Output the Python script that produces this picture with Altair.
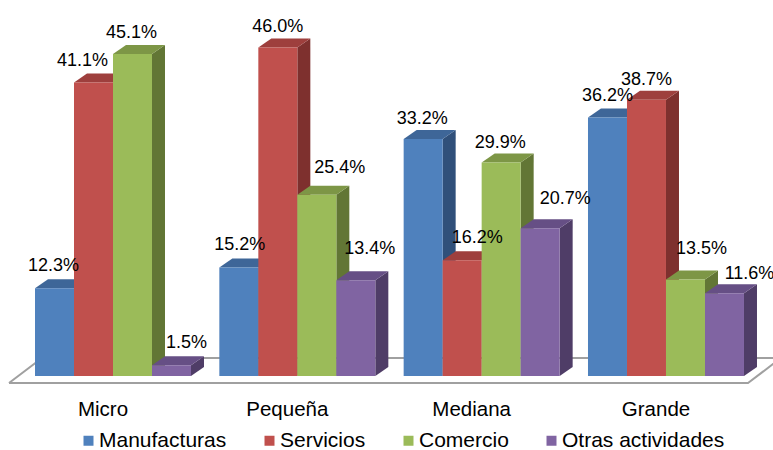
import altair as alt
import pandas as pd

# ---------------- data ----------------
categories = ["Micro", "Pequeña", "Mediana", "Grande"]
series = ["Manufacturas", "Servicios", "Comercio", "Otras actividades"]
manufacturas = [12.3, 15.2, 33.2, 36.2]
servicios = [41.1, 46.0, 16.2, 38.7]
comercio = [45.1, 25.4, 29.9, 13.5]
otras = [1.5, 13.4, 20.7, 11.6]
values_by_series = [manufacturas, servicios, comercio, otras]

# ---------------- styles ----------------
front_colors = ["#4F81BD", "#C0504D", "#9BBB59", "#8064A2"]
top_colors = ["#3E6698", "#9E3F3D", "#7D9646", "#664F85"]
side_colors = ["#30507A", "#7E302E", "#627635", "#4F3D67"]
FONT = "Liberation Sans"

# label nudges in pixels (category-major order), like the auto-placed labels
label_dx_px = [-1, -11, -1, 15, 1, 0, 23, 14, -1, 15, -1, 25, 0, 0, 16, 25]
label_up_px = [22, 22, 21, 22, 22, 21, 27, 31, 20, 22, 20, 29, 22, 20, 31, 19]

# ---------------- layout (scale units) ----------------
PX_PER_BAR = 39.0          # one x unit = one bar width
PX_PER_PCT = 7.14          # one y unit = one percent
GROUP_STEP = 184.33 / PX_PER_BAR
DEPTH_X = 13 / PX_PER_BAR
DEPTH_Y = 9 / PX_PER_PCT
W, H = 773, 450
X0_PX, BASE_PX = 35, 376
X_DOMAIN = [-X0_PX / PX_PER_BAR, (W - X0_PX) / PX_PER_BAR]
Y_DOMAIN = [(BASE_PX - H) / PX_PER_PCT, BASE_PX / PX_PER_PCT]

fronts, sides, tops, labels = [], [], [], []
k = 0
for g, cat in enumerate(categories):
    for s, name in enumerate(series):
        v = values_by_series[s][g]
        x0 = g * GROUP_STEP + s
        x1 = x0 + 1
        bid = f"{g}-{s}"
        fronts.append(dict(id=bid, series=name, x0=x0, x1=x1, v=v))
        sides.append(dict(id=bid, col=side_colors[s], x=x1, lo=0, hi=v))
        sides.append(dict(id=bid, col=side_colors[s], x=x1 + DEPTH_X, lo=DEPTH_Y, hi=v + DEPTH_Y))
        tops.append(dict(id=bid, col=top_colors[s], y=v, xl=x0, xr=x1))
        tops.append(dict(id=bid, col=top_colors[s], y=v + DEPTH_Y, xl=x0 + DEPTH_X, xr=x1 + DEPTH_X))
        labels.append(dict(
            txt=f"{v:.1f}%",
            x=x0 + 0.5 + label_dx_px[k] / PX_PER_BAR,
            y=v + label_up_px[k] / PX_PER_PCT,
        ))
        k += 1

cat_df = pd.DataFrame(dict(
    cat=categories,
    x=[g * GROUP_STEP + 2 - 10 / PX_PER_BAR for g in range(len(categories))],
    y=[(BASE_PX - 410) / PX_PER_PCT] * len(categories),
))

# floor parallelogram
fl_x0 = (9 - X0_PX) / PX_PER_BAR
fl_x1 = (748 - X0_PX) / PX_PER_BAR
fl_dx = 33 / PX_PER_BAR
fl_y0 = (BASE_PX - 383) / PX_PER_PCT
fl_y1 = (BASE_PX - 358) / PX_PER_PCT
floor_df = pd.DataFrame(dict(
    o=[0, 1, 2, 3, 4],
    x=[fl_x0, fl_x1, fl_x1 + fl_dx, fl_x0 + fl_dx, fl_x0],
    y=[fl_y0, fl_y0, fl_y1, fl_y1, fl_y0],
))

xs = alt.Scale(domain=X_DOMAIN, nice=False, zero=False)
ys = alt.Scale(domain=Y_DOMAIN, nice=False, zero=False)

floor = alt.Chart(floor_df).mark_line(color="#A0A0A0", strokeWidth=2).encode(
    x=alt.X("x:Q", scale=xs, axis=None),
    y=alt.Y("y:Q", scale=ys, axis=None),
    order="o:Q",
)

side_layer = alt.Chart(pd.DataFrame(sides)).mark_area(orient="vertical", opacity=1).encode(
    x=alt.X("x:Q", scale=xs, axis=None),
    y=alt.Y("hi:Q", scale=ys, axis=None),
    y2="lo:Q",
    detail="id:N",
    color=alt.Color("col:N", scale=None),
)

top_layer = alt.Chart(pd.DataFrame(tops)).mark_area(orient="horizontal", opacity=1).encode(
    y=alt.Y("y:Q", scale=ys, axis=None),
    x=alt.X("xl:Q", scale=xs, axis=None),
    x2="xr:Q",
    detail="id:N",
    color=alt.Color("col:N", scale=None),
)

front_layer = alt.Chart(pd.DataFrame(fronts)).mark_rect().encode(
    x=alt.X("x0:Q", scale=xs, axis=None),
    x2="x1:Q",
    y=alt.Y("v:Q", scale=ys, axis=None),
    y2=alt.Y2(datum=0),
    color=alt.Color(
        "series:N",
        scale=alt.Scale(domain=series, range=front_colors),
        sort=series,
        legend=alt.Legend(
            title=None,
            orient="none",
            legendX=78,
            legendY=430,
            direction="horizontal",
            symbolType="square",
            symbolSize=100,
            symbolStrokeWidth=0,
            labelFont=FONT,
            labelFontSize=21,
            labelColor="#000000",
            labelOffset=0,
            columnPadding=32,
            padding=0,
            labelLimit=300,
        ),
    ),
)

value_labels = alt.Chart(pd.DataFrame(labels)).mark_text(
    font=FONT, fontSize=18, color="#000000", baseline="middle", align="center"
).encode(
    x=alt.X("x:Q", scale=xs, axis=None),
    y=alt.Y("y:Q", scale=ys, axis=None),
    text="txt:N",
)

cat_labels = alt.Chart(cat_df).mark_text(
    font=FONT, fontSize=20.5, color="#000000", baseline="middle", align="center"
).encode(
    x=alt.X("x:Q", scale=xs, axis=None),
    y=alt.Y("y:Q", scale=ys, axis=None),
    text="cat:N",
)

chart = alt.layer(
    floor, side_layer, top_layer, front_layer, value_labels, cat_labels
).resolve_scale(color="independent").properties(
    width=W, height=H, padding=0, autosize=alt.AutoSizeParams(type="none"),
    background="#FFFFFF",
).configure_view(stroke=None)

chart.save("out.html", embed_options={"renderer": "svg", "actions": False})
